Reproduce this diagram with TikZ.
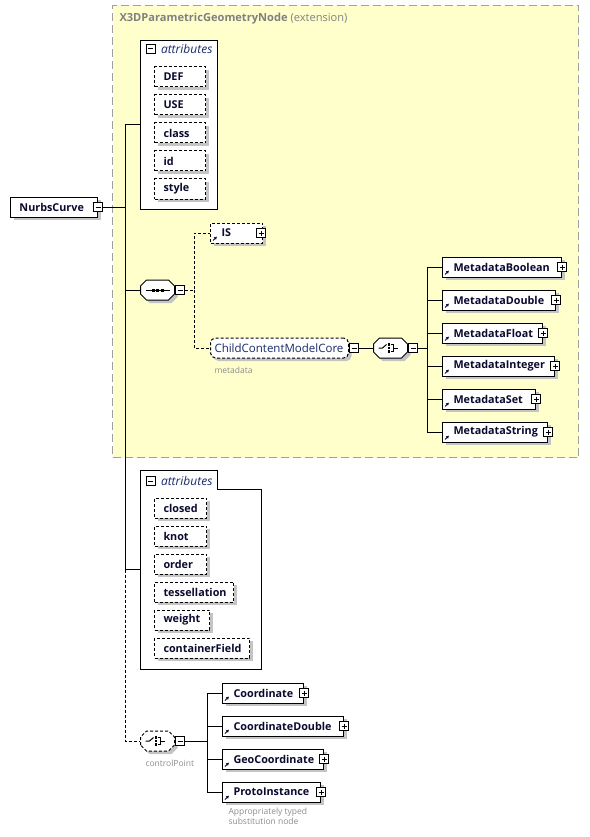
\documentclass[tikz,border=0pt]{standalone}
\usepackage{fontspec}
\setmainfont{Open Sans}
\usetikzlibrary{shadows,arrows.meta,positioning}
\definecolor{ink}{HTML}{0A0A30}
\definecolor{blueink}{HTML}{1A2A6A}
\definecolor{shade}{HTML}{C4C4C4}
\definecolor{extfill}{HTML}{FFFFCC}
\definecolor{extline}{HTML}{A0A0A0}
\definecolor{exttext}{HTML}{808080}
\definecolor{notegray}{HTML}{8C8C8C}
\tikzset{dsh/.style={dash pattern=on 3pt off 2pt}}
\tikzset{shd/.style={drop shadow={shadow xshift=3pt,shadow yshift=-3pt,fill=shade,opacity=1}}}
\tikzset{box/.style={draw,fill=white,shd,anchor=west,inner xsep=0pt,inner ysep=0pt,minimum height=20pt,text width=#1,align=left,text=ink,font=\fontsize{10.8}{12}\selectfont\bfseries}}
\tikzset{attr/.style={box=#1,dsh,execute at begin node={\hspace*{9pt}}}}
\tikzset{elem/.style={box=#1,execute at begin node={\hspace*{9pt}}}}
\tikzset{ref/.style={box=#1,execute at begin node={\hspace*{11pt}}}}
\tikzset{cmod/.style={box=#1,dsh,rounded corners=5pt,text=blueink,font=\fontsize{11.5}{13}\selectfont,execute at begin node={\hspace*{4pt}}}}
\tikzset{refarrow/.style={-{Latex[length=3pt,width=3.5pt]},line width=1pt,ink}}
\tikzset{pm/.style={draw,solid,fill=white,minimum size=9pt,inner sep=0pt,path picture={\draw[solid] ([xshift=2pt]path picture bounding box.west) -- ([xshift=-2pt]path picture bounding box.east);}}}
\tikzset{pl/.style={draw,solid,fill=white,minimum size=9pt,inner sep=0pt,path picture={\draw[solid] ([xshift=2pt]path picture bounding box.west) -- ([xshift=-2pt]path picture bounding box.east) ([yshift=-2pt]path picture bounding box.north) -- ([yshift=2pt]path picture bounding box.south);}}}
\tikzset{grp/.style={minimum width=34pt,minimum height=20pt,inner sep=0pt,anchor=west}}
\tikzset{attrhead/.style={anchor=west,inner sep=0pt,text=blueink,font=\fontsize{12}{14}\selectfont\itshape}}
\tikzset{note/.style={anchor=west,inner sep=0pt,text=notegray,font=\fontsize{8.5}{10}\selectfont,align=left}}

\begin{document}
\begin{tikzpicture}[x=1pt, y=-1pt, line width=1pt]
	\useasboundingbox (0,0) rectangle (589,837);

	% extension frame
	\node[draw=extline,fill=extfill,dash pattern=on 8pt off 4pt,minimum width=466pt,minimum height=452pt,anchor=north west] (ext) at (112,5) {};
	\node[anchor=west,inner sep=0pt,text=exttext,font=\fontsize{11.1}{13}\selectfont] (extt) at (119,19) {\textbf{X3DParametricGeometryNode} (extension)};

	% attribute groups
	\node[draw,fill=white,minimum width=77pt,minimum height=169pt,anchor=north west] (attrA) at (140,40) {};
	\node[pm] (aam) at (150.5,49) {};
	\node[attrhead] (aat) at ([xshift=5pt]aam.east) {attributes};
	\foreach \a [count=\i] in {DEF,USE,class,id,style}
		\node[attr=51pt] (a\i) at (154,{49+28*\i}) {\a};

	\draw[fill=white] (140,470) -| (217,489) -| (261,669) -- (140,669) -- cycle;
	\coordinate (attrB) at (140,569.5);
	\node[pm] (abm) at (150.5,481) {};
	\node[attrhead] (abt) at ([xshift=5pt]abm.east) {attributes};
	\foreach \a/\w [count=\i] in {closed/52,knot/52,order/52,tessellation/79,weight/55,containerField/95}
		\node[attr=\w pt] (b\i) at (154,{480+28*\i}) {\a};

	% root
	\node[elem=87pt] (nc) at (10,207) {NurbsCurve};
	\node[pm] (ncm) at (nc.east) {};

	% compositors
	\node[grp] (seq) at (140,290) {};
	\node[grp] (ch) at (373,348) {};
	\node[grp] (cp) at (140,741) {};
	\foreach \g/\s in {seq/solid,ch/solid,cp/dsh}
		\draw[fill=white,shd,\s] ([shift={(-17pt,-4pt)}]\g.center) -- ++(0pt,8pt) -- ++(6pt,6pt) -- ++(22pt,0pt) -- ++(6pt,-6pt) -- ++(0pt,-8pt) -- ++(-6pt,-6pt) -- ++(-22pt,0pt) -- cycle;
	\draw ([xshift=-12pt]seq.center) -- ([xshift=12pt]seq.center);
	\foreach \d in {-4.5,0,4.5} \fill ([xshift=\d pt]seq.center) ++(-1.5pt,-1.5pt) rectangle ++(3pt,3pt);
	\foreach \g in {ch,cp} {
		\draw ([xshift=-12pt]\g.center) -- ([xshift=-8pt]\g.center) -- ([shift={(-4pt,3.5pt)}]\g.center);
		\foreach \d in {3.5,0,-3.5} \fill ([shift={(-1.5pt,\d pt)}]\g.center) ++(-1.3pt,-1.3pt) rectangle ++(2.6pt,2.6pt);
		\draw ([shift={(0pt,3.5pt)}]\g.center) -- ([shift={(2.5pt,3.5pt)}]\g.center) -- ([shift={(2.5pt,-3.5pt)}]\g.center) -- ([shift={(0pt,-3.5pt)}]\g.center);
		\draw ([xshift=2.5pt]\g.center) -- ([xshift=7pt]\g.center);
	}
	\node[pm,anchor=west] (seqm) at (seq.east) {};
	\node[pm,anchor=west] (chm) at (ch.east) {};
	\node[pm,anchor=west] (cpm) at (cp.east) {};
	\node[note] (cpn) at (145,763) {controlPoint};

	% sequence branches
	\node[ref=52pt,dsh] (is) at (210,233) {IS};
	\node[pl] (isp) at ([xshift=-2pt]is.east) {};
	\draw[refarrow] ([shift={(3pt,3pt)}]is.south west) -- ++(4pt,4pt);
	\node[cmod=138pt] (ccm) at (210,348) {ChildContentModelCore};
	\node[pm,anchor=west] (ccmm) at (ccm.east) {};
	\node[note] (ccmn) at (214,370) {metadata};

	% metadata
	\foreach \m/\w [count=\i] in {Boolean/119,Double/113,Float/100,Integer/112,Set/93,String/105} {
		\node[ref=\w pt] (m\i) at (442,{234+33*\i}) {Metadata\m};
		\node[pl] (mp\i) at (m\i.east) {};
		\draw[refarrow] ([shift={(3pt,3pt)}]m\i.south west) -- ++(4pt,4pt);
	}

	% controlPoint
	\foreach \c/\w [count=\i] in {Coordinate/81,CoordinateDouble/121,GeoCoordinate/101,ProtoInstance/98} {
		\node[ref=\w pt] (c\i) at (222,{660+33*\i}) {\c};
		\node[pl] (cp\i) at (c\i.east) {};
		\draw[refarrow] ([shift={(3pt,3pt)}]c\i.south west) -- ++(4pt,4pt);
	}
	\node[note,anchor=north west] (c4n) at (228,808) {Appropriately typed\\substitution node};

	% connectors
	\coordinate (tr) at (125,207);
	\draw (ncm.east) -- (tr) |- (attrA.west);
	\draw (tr) |- (seq.west);
	\draw (tr) |- (attrB);
	\draw[dsh] (tr |- attrB) |- (cp.west);
	\coordinate (sq) at (194,290);
	\draw[dsh] (seqm.east) -- (sq) |- (is.west);
	\draw[dsh] (sq) |- (ccm.west);
	\draw (ccmm.east) -- (ch.west);
	\coordinate (mt) at (427,348);
	\draw (chm.east) -- (mt);
	\foreach \i in {1,...,6} \draw (mt) |- (m\i.west);
	\coordinate (ct) at (207,741);
	\draw (cpm.east) -- (ct);
	\foreach \i in {1,...,4} \draw (ct) |- (c\i.west);
\end{tikzpicture}
\end{document}
